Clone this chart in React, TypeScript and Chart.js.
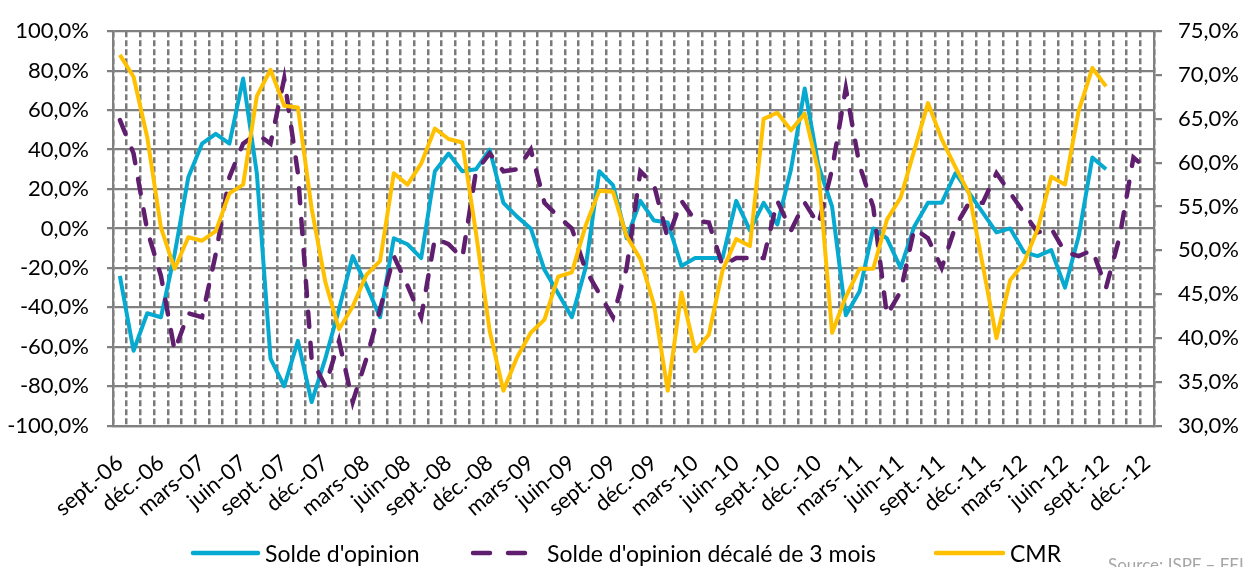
import React, { useEffect, useRef } from 'react';
import { Chart, registerables } from 'chart.js';

Chart.register(...registerables);

const MONTH_NAMES = ['janv.', 'févr.', 'mars', 'avr.', 'mai', 'juin', 'juil.', 'août', 'sept.', 'oct.', 'nov.', 'déc.'];
const START_YEAR = 2006;
const START_MONTH = 8; // sept.
const END_YEAR = 2012;
const LABEL_STEP = 3;

const categories: string[] = [];
for (let y = START_YEAR; y <= END_YEAR; y++) {
  for (let m = 0; m < 12; m++) {
    if (y === START_YEAR && m < START_MONTH) continue;
    categories.push(`${MONTH_NAMES[m]}-${String(y % 100).padStart(2, '0')}`);
  }
}

// Solde d'opinion (%), sept.-06 .. sept.-12
const solde = [
  -24, -62, -43, -45, -13, 26, 43, 48, 43, 76,
  28, -66, -80, -57, -88, -66, -41, -14, -29, -45,
  -5, -8, -15, 29, 38, 29, 30, 40, 13, 6,
  0, -21, -33, -45, -20, 29, 22, -5, 14, 4,
  3, -19, -15, -15, -15, 14, -1, 13, 2, 30,
  71, 32, 11, -44, -32, 0, -5, -20, 1, 13,
  13, 28, 18, 8, -2, 0, -12, -14, -11, -30,
  -4, 36, 30,
];

// Solde d'opinion décalé de 3 mois (%), sept.-06 .. déc.-12
const soldeDecale = [
  55, 38, -1,
  -24, -62, -43, -45, -13, 26, 43, 48, 43, 76,
  28, -66, -80, -57, -88, -66, -41, -14, -29, -45,
  -5, -8, -15, 29, 38, 29, 30, 40, 13, 6,
  0, -21, -33, -45, -20, 29, 22, -5, 14, 4,
  3, -19, -15, -15, -15, 14, -1, 13, 2, 30,
  71, 32, 11, -44, -32, 0, -5, -20, 1, 13,
  13, 28, 18, 8, -2, 0, -12, -14, -11, -30,
  -4, 36, 30,
];

// CMR (%), right axis, sept.-06 .. sept.-12
const cmr = [
  72.3, 69.8, 62.9, 52.6, 47.9, 51.5, 51.1, 52.2, 56.5, 57.5,
  67.6, 70.6, 66.5, 66.3, 54.8, 46.4, 41.0, 43.6, 47.2, 48.8,
  58.8, 57.5, 59.9, 63.9, 62.7, 62.3, 52.0, 40.8, 34.0, 37.8,
  40.6, 42.1, 47.0, 47.5, 52.8, 56.8, 56.7, 51.6, 49.0, 43.8,
  34.0, 45.2, 38.5, 40.4, 47.7, 51.3, 50.5, 65.0, 65.7, 63.7,
  65.6, 59.0, 40.6, 44.7, 47.9, 47.9, 53.5, 56.0, 61.4, 66.8,
  62.7, 59.5, 56.5, 48.3, 40.0, 46.6, 48.6, 52.4, 58.4, 57.5,
  65.9, 70.8, 68.7,
];

const LEFT_MIN = -100;
const LEFT_MAX = 100;
const LEFT_STEP = 20;
const RIGHT_MIN = 30;
const RIGHT_MAX = 75;
const RIGHT_STEP = 5;

const SERIES_NAMES = ["Solde d'opinion", "Solde d'opinion décalé de 3 mois", 'CMR'];
const COLORS = ['#06A9CF', '#601E6E', '#FFC000'];
const SOURCE_TEXT = 'Source: ISPF – FEI';

const W = 1244;
const H = 567;
const FONT = 'Lato, "Open Sans", sans-serif';
const GRID = '#808080';

const fmt = (v: number) => `${v.toFixed(1).replace('.', ',')}%`;

export default function App() {
  const ref = useRef<HTMLCanvasElement | null>(null);

  useEffect(() => {
    if (!ref.current) return;
    const chart = new Chart(ref.current, {
      type: 'line',
      data: {
        labels: categories,
        datasets: [
          {
            label: SERIES_NAMES[0],
            data: solde,
            borderColor: COLORS[0],
            backgroundColor: COLORS[0],
            borderWidth: 4,
            pointRadius: 0,
            tension: 0,
            borderJoinStyle: 'round',
            yAxisID: 'y',
            order: 3,
          },
          {
            label: SERIES_NAMES[1],
            data: soldeDecale,
            borderColor: COLORS[1],
            backgroundColor: COLORS[1],
            borderWidth: 4.5,
            borderDash: [15, 16],
            borderCapStyle: 'round',
            pointRadius: 0,
            tension: 0,
            yAxisID: 'y',
            order: 2,
          },
          {
            label: SERIES_NAMES[2],
            data: cmr,
            borderColor: COLORS[2],
            backgroundColor: COLORS[2],
            borderWidth: 4,
            pointRadius: 0,
            tension: 0,
            borderJoinStyle: 'round',
            yAxisID: 'y1',
            order: 1,
          },
        ],
      },
      options: {
        responsive: false,
        animation: false,
        events: [],
        layout: { padding: { top: 25.7, left: 0, right: 0, bottom: 0 } },
        plugins: {
          legend: { display: false },
          tooltip: { enabled: false },
          title: { display: false },
        },
        scales: {
          x: {
            type: 'category',
            offset: true,
            afterFit: (s: any) => {
              s.height = H - 425.7;
            },
            grid: {
              offset: true,
              color: '#7a7a7a',
              lineWidth: 2.5,
              drawTicks: false,
              tickLength: 0,
            },
            border: { display: true, color: GRID, width: 2.25, dash: [6, 3] },
            ticks: {
              autoSkip: false,
              minRotation: 40,
              maxRotation: 40,
              padding: 24,
              color: '#000',
              font: { family: FONT, size: 22 },
              callback: (_v: any, i: number) => (i % LABEL_STEP === 0 ? categories[i] : ''),
            },
          },
          y: {
            position: 'left',
            min: LEFT_MIN,
            max: LEFT_MAX,
            afterFit: (s: any) => {
              s.width = 113;
            },
            grid: { color: GRID, lineWidth: 2.25, drawTicks: true, tickLength: 6 },
            border: { display: true, color: GRID, width: 2.25 },
            ticks: {
              stepSize: LEFT_STEP,
              padding: 18,
              color: '#000',
              font: { family: FONT, size: 22 },
              callback: (v: any) => fmt(Number(v)),
            },
          },
          y1: {
            position: 'right',
            min: RIGHT_MIN,
            max: RIGHT_MAX,
            afterFit: (s: any) => {
              s.width = W - 1154;
            },
            grid: { drawOnChartArea: false, color: GRID, lineWidth: 2.25, drawTicks: true, tickLength: 8 },
            border: { display: true, color: GRID, width: 2.25 },
            ticks: {
              stepSize: RIGHT_STEP,
              padding: 16,
              color: '#000',
              font: { family: FONT, size: 22 },
              callback: (v: any) => fmt(Number(v)),
            },
          },
        },
      },
    } as any);
    return () => chart.destroy();
  }, []);

  const legendText: React.CSSProperties = {
    position: 'absolute',
    top: 539,
    fontFamily: FONT,
    fontSize: 23,
    lineHeight: '28px',
    color: '#000',
    whiteSpace: 'nowrap',
  };

  return (
    <div
      style={{
        position: 'absolute',
        left: 0,
        top: 0,
        width: W,
        height: H,
        overflow: 'hidden',
        background: '#fff',
      }}
    >
      <canvas ref={ref} width={W} height={H} style={{ display: 'block', width: W, height: H }} />
      <svg style={{ position: 'absolute', left: 190, top: 547 }} width={72} height={12}>
        <line x1={3} y1={6} x2={68} y2={6} stroke={COLORS[0]} strokeWidth={4.5} strokeLinecap="round" />
      </svg>
      <div style={{ ...legendText, left: 265 }}>{SERIES_NAMES[0]}</div>
      <svg style={{ position: 'absolute', left: 468, top: 547 }} width={66} height={12}>
        <line
          x1={5}
          y1={6}
          x2={62}
          y2={6}
          stroke={COLORS[1]}
          strokeWidth={4.5}
          strokeLinecap="round"
          strokeDasharray="17 18"
        />
      </svg>
      <div style={{ ...legendText, left: 547 }}>{SERIES_NAMES[1]}</div>
      <svg style={{ position: 'absolute', left: 933, top: 547 }} width={74} height={12}>
        <line x1={3} y1={6} x2={70} y2={6} stroke={COLORS[2]} strokeWidth={4.5} strokeLinecap="round" />
      </svg>
      <div style={{ ...legendText, left: 1010 }}>{SERIES_NAMES[2]}</div>
      <div
        style={{
          position: 'absolute',
          left: 1108,
          top: 555,
          fontFamily: FONT,
          fontSize: 17,
          lineHeight: '20px',
          color: '#a6a6a6',
          whiteSpace: 'nowrap',
        }}
      >
        {SOURCE_TEXT}
      </div>
    </div>
  );
}
